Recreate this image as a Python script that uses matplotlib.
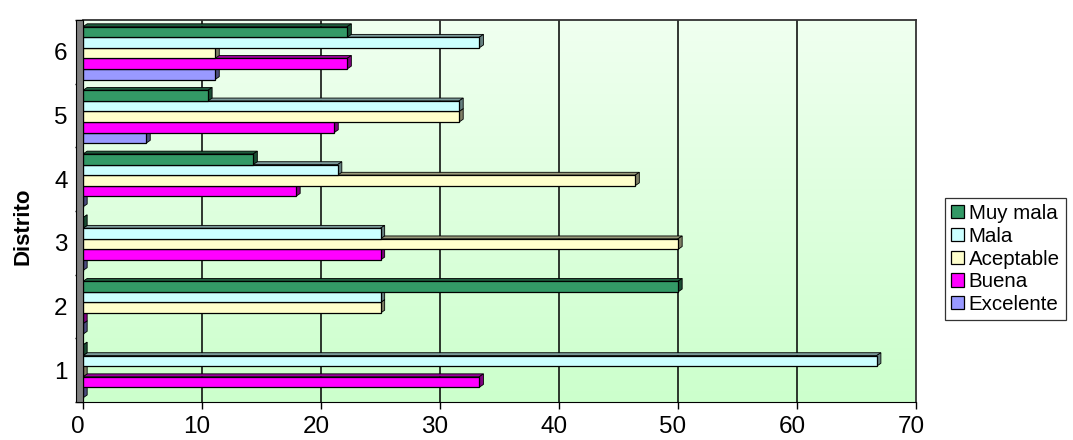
import numpy as np
import matplotlib
matplotlib.use('Agg')
from matplotlib import pyplot as plt
from matplotlib.patches import Polygon, Rectangle
from matplotlib.colors import LinearSegmentedColormap, to_rgb
from matplotlib.transforms import ScaledTranslation

plt.rcParams['font.family'] = ['Liberation Sans', 'DejaVu Sans']

# datos: porcentaje de respuestas por distrito
distritos = ['1', '2', '3', '4', '5', '6']
series = ['Excelente', 'Buena', 'Aceptable', 'Mala', 'Muy mala']
excelente = [0, 0, 0, 0, 5.3, 11.1]
buena = [33.3, 0, 25.0, 17.9, 21.1, 22.2]
aceptable = [0, 25.0, 50.0, 46.4, 31.6, 11.1]
mala = [66.7, 25.0, 25.0, 21.4, 31.6, 33.3]
muy_mala = [0, 50.0, 0, 14.3, 10.5, 22.2]
colores = ['#9999FF', '#FF00FF', '#FFFFCC', '#CCFFFF', '#339966']
xticks = [0, 10, 20, 30, 40, 50, 60, 70]

valores = [excelente, buena, aceptable, mala, muy_mala]


def oscurecer(c, f):
    r, g, b = to_rgb(c)
    return (r * f, g * f, b * f)


fig = plt.figure(figsize=(10.73, 4.40), dpi=100)
W, H = 1073, 440
ax = fig.add_axes([83 / W, 38 / H, (916 - 83) / W, (420 - 38) / H])

# fondo degradado
cmap = LinearSegmentedColormap.from_list('fondo', ['#CCFFCC', '#F0FFF0'])
grad = np.linspace(0, 1, 256).reshape(-1, 1)
ax.imshow(grad, cmap=cmap, aspect='auto', origin='lower',
          extent=[0, 70, 0.5, 6.5], zorder=0)

for x in xticks[1:-1]:
    ax.axvline(x, color='black', lw=1.1, zorder=1)

y = np.arange(1, len(distritos) + 1)
h = 0.166
dx, dy = 0.35, 0.045
for i, (nombre, vals, col) in enumerate(zip(series, valores, colores)):
    pos = y + (i - 2) * h - 0.02
    ax.barh(pos, vals, height=h, color=col, edgecolor='black', lw=0.9,
            label=nombre, zorder=3)
    # caras laterales del efecto 3D
    for yy, v in zip(pos, vals):
        top = yy + h / 2
        bot = yy - h / 2
        cara_sup = Polygon([(0, top), (v, top), (v + dx, top + dy), (dx, top + dy)],
                           closed=True, facecolor=oscurecer(col, 0.6),
                           edgecolor='black', lw=0.6, zorder=2)
        cara_lat = Polygon([(v, bot), (v, top), (v + dx, top + dy), (v + dx, bot + dy)],
                           closed=True, facecolor=oscurecer(col, 0.5),
                           edgecolor='black', lw=0.6, zorder=2)
        ax.add_patch(cara_sup)
        ax.add_patch(cara_lat)

ax.set_xlim(0, 70)
ax.set_ylim(0.5, 6.5)
ax.set_xticks(xticks)
ax.set_yticks(y)
ax.set_yticklabels(distritos)
ax.set_yticks(np.arange(0.5, 7.0, 1.0), minor=True)
ax.tick_params(axis='y', which='major', length=0, pad=11, labelsize=17.5)
ax.tick_params(axis='y', which='minor', length=6, direction='out', width=1)
ax.tick_params(axis='x', length=5, direction='out', width=1, labelsize=17.5, pad=5)
for lbl in ax.get_xticklabels():
    lbl.set_transform(lbl.get_transform() + ScaledTranslation(-5 / 100, 0, fig.dpi_scale_trans))

for s in ['top', 'right']:
    ax.spines[s].set_color('#333333')
    ax.spines[s].set_linewidth(1.3)
ax.spines['bottom'].set_color('black')
ax.spines['left'].set_color('black')

# pared lateral gris
pared = Rectangle((-0.008, 0), 0.008, 1, transform=ax.transAxes,
                  facecolor='#808080', edgecolor='black', lw=0.8,
                  clip_on=False, zorder=4)
ax.add_patch(pared)

ax.set_ylabel('Distrito', fontsize=16, fontweight='bold')
ax.yaxis.set_label_coords(-0.06, 0.46)

handles, labels = ax.get_legend_handles_labels()
leg = fig.legend(handles[::-1], labels[::-1], loc='upper left',
                 bbox_to_anchor=(945 / W, 1 - 198 / H), fontsize=14.8,
                 frameon=True, fancybox=False, edgecolor='black',
                 handlelength=0.6, handleheight=0.6, handletextpad=0.25,
                 labelspacing=0.18, borderpad=0.3, borderaxespad=0)
leg.get_frame().set_linewidth(0.9)

fig.savefig('out.png', dpi=100)
